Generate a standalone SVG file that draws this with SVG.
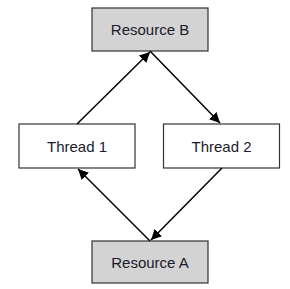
<svg xmlns="http://www.w3.org/2000/svg" width="290" height="289" viewBox="0 0 290 289">
<style>
.box{stroke:#333;stroke-width:1.2}
.res{fill:#d3d3d3}
.thr{fill:#fff}
text{font-family:"Liberation Sans",Arial,sans-serif;font-size:15px;fill:#1a1a2a;text-anchor:middle}
.conn line{stroke:#000;stroke-width:1.5;marker-end:url(#ah)}
</style>
<defs>
<marker id="ah" viewBox="0 0 10 10" refX="10" refY="5" markerWidth="7" markerHeight="7" markerUnits="strokeWidth" orient="auto">
<path d="M0,0 L10,5 L0,10 z" fill="#000"/>
</marker>
</defs>
<rect width="290" height="289" fill="#fff"/>
<g id="resourceB"><rect class="box res" x="92" y="8" width="116" height="43"/><text x="150" y="35">Resource B</text></g>
<g id="thread1"><rect class="box thr" x="19" y="124" width="116" height="44"/><text x="77" y="152">Thread 1</text></g>
<g id="thread2"><rect class="box thr" x="163.5" y="124" width="116" height="44"/><text x="221.5" y="152">Thread 2</text></g>
<g id="resourceA"><rect class="box res" x="92" y="241" width="116" height="42"/><text x="150" y="268">Resource A</text></g>
<g class="conn">
<line x1="77" y1="124" x2="150" y2="52"/>
<line x1="150" y1="51" x2="220" y2="123"/>
<line x1="222" y1="168" x2="151" y2="240"/>
<line x1="150" y1="241" x2="78" y2="169"/>
</g>
</svg>
